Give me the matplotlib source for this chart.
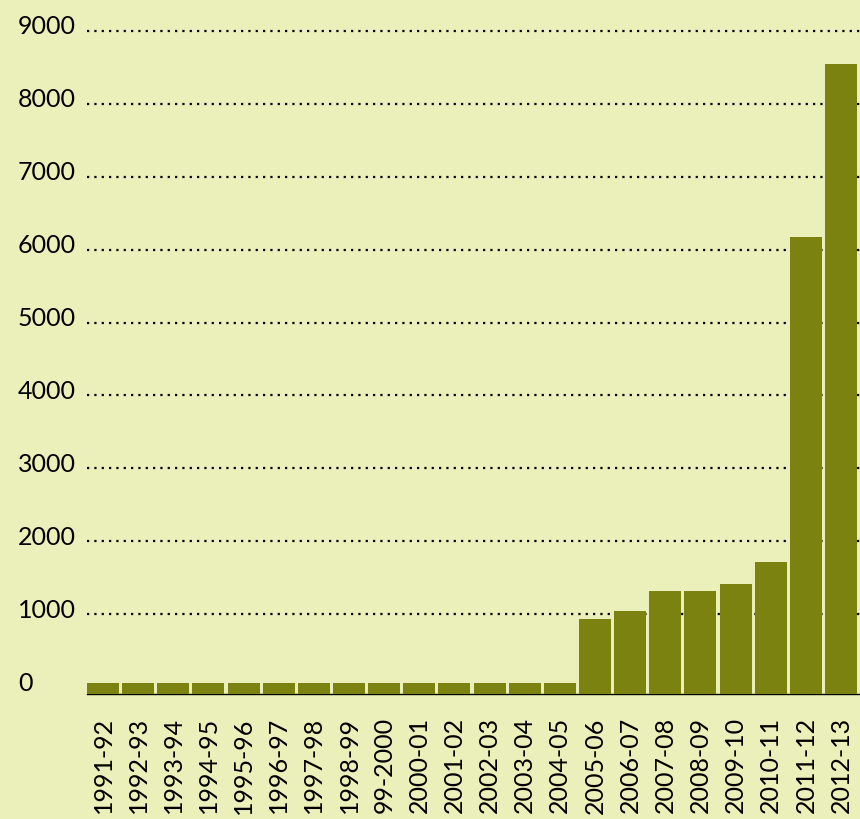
import numpy as np
import matplotlib
matplotlib.use('Agg')
import matplotlib.pyplot as plt
import matplotlib.transforms as mtransforms

years = ['1991-92', '1992-93', '1993-94', '1994-95', '1995-96', '1996-97',
         '1997-98', '1998-99', '99-2000', '2000-01', '2001-02', '2002-03',
         '2003-04', '2004-05', '2005-06', '2006-07', '2007-08', '2008-09',
         '2009-10', '2010-11', '2011-12', '2012-13']
values = [60, 60, 60, 60, 60, 60, 60, 60, 60, 60, 60, 60, 60, 60,
          935, 1045, 1320, 1320, 1415, 1715, 6175, 8545]
yticks = [0, 1000, 2000, 3000, 4000, 5000, 6000, 7000, 8000, 9000]

bg = '#EBEFB9'
bar_color = '#7B8210'
base = -100

plt.rcParams['font.family'] = ['Lato', 'DejaVu Sans']

fig = plt.figure(figsize=(8.6, 8.19), dpi=100)
fig.patch.set_facecolor(bg)
ax = fig.add_axes([87 / 860, 124.7 / 819, 773 / 860, 677.9 / 819])
ax.set_facecolor(bg)

x = np.arange(len(years))
ax.bar(x, np.array(values) - base, bottom=base, width=0.91,
       color=bar_color, zorder=3)

ax.set_xlim(-0.455, 21.54)
ax.set_ylim(base, 9200)
ax.set_yticks(yticks)
ax.set_yticklabels([str(v) for v in yticks], fontsize=18, ha='left')
ax.set_xticks(x)
ax.set_xticklabels(years, rotation=90, fontsize=18)
ax.tick_params(axis='both', length=0)
ax.tick_params(axis='y', pad=49.7)
ax.tick_params(axis='x', pad=16.5)

# dotted gridlines, skipping zero
for v in yticks[1:]:
    ax.axhline(v, color='black', linestyle=(0, (1, 2.3)), linewidth=1.6, zorder=1)

for s in ['top', 'right', 'left']:
    ax.spines[s].set_visible(False)
ax.spines['bottom'].set_color('black')
ax.spines['bottom'].set_linewidth(1)
ax.spines['bottom'].set_zorder(2)

# lift y labels a little above their gridlines
shift = mtransforms.ScaledTranslation(0, 6 / 100, fig.dpi_scale_trans)
for lab in ax.get_yticklabels():
    lab.set_transform(lab.get_transform() + shift)

fig.savefig('out.png', dpi=100, facecolor=bg)
